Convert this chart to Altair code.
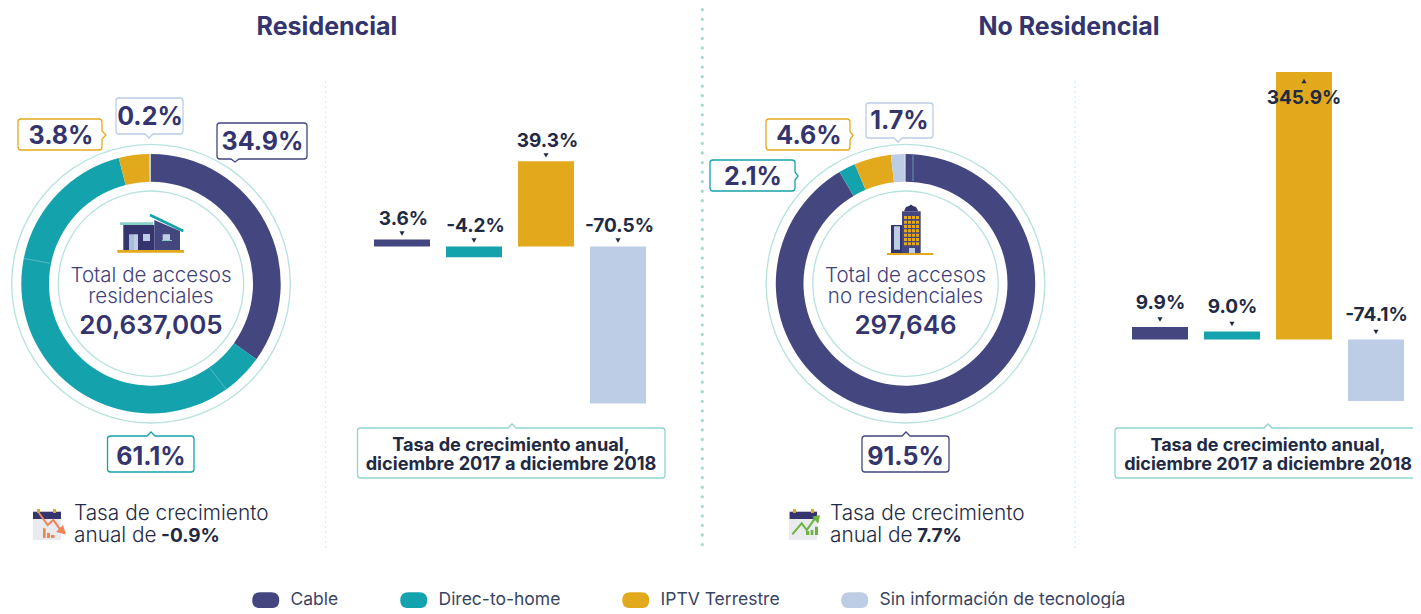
import altair as alt
import pandas as pd

# ---- data ----
categories = ["Cable", "Direc-to-home", "IPTV Terrestre", "Sin información de tecnología"]
colors = ["#43467F", "#14A3AC", "#E3A91D", "#BDCDE5"]
res_share = [34.9, 61.1, 3.8, 0.2]
nores_share = [91.5, 2.1, 4.6, 1.7]
res_bar = [3.2, -4.9, 38.7, -71.4]
nores_bar = [15.8, 10.1, 338.6, -77.8]
res_labels = ["3.6%", "-4.2%", "39.3%", "-70.5%"]
nores_labels = ["9.9%", "9.0%", "345.9%", "-74.1%"]

NAVY = "#34346E"
MID = "#3F4179"
INK = "#1F2A44"
RING = "#B7E3DE"
MINT = "#8FD5CE"
FONT = "Inter"

one = alt.Data(values=[{"a": 1}])
layers = []


def X(v):
    return alt.value(v - 8)


def Y(v):
    return alt.value(v - 8)


def txt(s, x, y, size, weight=400, color=NAVY, align="center"):
    layers.append(
        alt.Chart(one)
        .mark_text(text=s, font=FONT, fontSize=size, fontWeight=weight, color=color, align=align, baseline="middle")
        .encode(x=X(x), y=Y(y + 1.3))
    )


def shape(path, fill=None, stroke=None, sw=0):
    kw = {}
    if fill:
        kw.update(filled=True, fill=fill)
    if stroke:
        kw.update(stroke=stroke, strokeWidth=sw)
    else:
        kw.update(strokeWidth=0)
    layers.append(alt.Chart(one).mark_point(shape=path, size=4, opacity=1, **kw).encode(x=alt.value(0), y=alt.value(0)))


def pts(*p, close=True):
    s = "M" + "L".join(f"{a-8:.1f},{b-8:.1f}" for a, b in p)
    return s + ("Z" if close else "")


def rects(*rs):
    return "".join(pts((a, b), (c, b), (c, d), (a, d)) for a, b, c, d in rs)


def vrule(x, y0, y1, dash, width, color=MINT):
    layers.append(
        alt.Chart(one)
        .mark_rule(color=color, strokeWidth=width, strokeDash=dash, strokeCap="round")
        .encode(x=X(x), y=Y(y0), y2=Y(y1))
    )


def seam(x0, y0, x1, y1):
    layers.append(
        alt.Chart(one)
        .mark_rule(color="#7FCBD0", strokeWidth=1, opacity=0.6)
        .encode(x=X(x0), y=Y(y0), x2=X(x1), y2=Y(y1))
    )


def ring(cx, cy, r, width=1.3):
    layers.append(
        alt.Chart(one)
        .mark_arc(innerRadius=r - width / 2, outerRadius=r + width / 2, theta=0, theta2=6.2832, color=RING)
        .encode(x=X(cx), y=Y(cy))
    )


def callout(x0, y0, x1, y1, side, pos, tip, color, sw=1.3):
    r = 3
    p = [f"M{x0+r-8:.1f},{y0-8:.1f}"]
    if side == "up":
        p += [f"L{pos-4-8:.1f},{y0-8:.1f}", f"L{pos-8:.1f},{tip-8:.1f}", f"L{pos+4-8:.1f},{y0-8:.1f}"]
    p += [f"L{x1-r-8:.1f},{y0-8:.1f}", f"Q{x1-8:.1f},{y0-8:.1f},{x1-8:.1f},{y0+r-8:.1f}"]
    if side == "right":
        p += [f"L{x1-8:.1f},{pos-4-8:.1f}", f"L{tip-8:.1f},{pos-8:.1f}", f"L{x1-8:.1f},{pos+4-8:.1f}"]
    p += [f"L{x1-8:.1f},{y1-r-8:.1f}", f"Q{x1-8:.1f},{y1-8:.1f},{x1-r-8:.1f},{y1-8:.1f}"]
    if side == "down":
        p += [f"L{pos+4-8:.1f},{y1-8:.1f}", f"L{pos-8:.1f},{tip-8:.1f}", f"L{pos-4-8:.1f},{y1-8:.1f}"]
    p += [f"L{x0+r-8:.1f},{y1-8:.1f}", f"Q{x0-8:.1f},{y1-8:.1f},{x0-8:.1f},{y1-r-8:.1f}",
          f"L{x0-8:.1f},{y0+r-8:.1f}", f"Q{x0-8:.1f},{y0-8:.1f},{x0+r-8:.1f},{y0-8:.1f}Z"]
    shape("".join(p), fill="#FFFFFF", stroke=color, sw=sw)


color_scale = alt.Scale(domain=categories, range=colors)
legend = alt.Legend(
    title=None, orient="none", legendX=249, legendY=583, direction="horizontal", columns=4, padding=0,
    symbolType="M-13.5,0Q-13.5,-8,-5.5,-8L5.5,-8Q13.5,-8,13.5,0Q13.5,8,5.5,8L-5.5,8Q-13.5,8,-13.5,0Z",
    symbolSize=4, symbolStrokeWidth=0, labelOffset=16, labelFont=FONT, labelFontSize=17.5,
    labelColor="#3A4463", labelLimit=400, columnPadding=61, symbolOpacity=1,
)


def donut(values, cx, cy, leg):
    df = pd.DataFrame({"cat": categories, "share": values, "idx": range(4)})
    ring(cx, cy, 139.3)
    ring(cx, cy, 92.7)
    layers.append(
        alt.Chart(df)
        .mark_arc(innerRadius=102, outerRadius=129.7)
        .encode(
            x=X(cx),
            y=Y(cy),
            theta=alt.Theta("share:Q", stack=True, scale=alt.Scale(domain=[0, 100])),
            order=alt.Order("idx:Q"),
            color=alt.Color("cat:N", scale=color_scale, sort=categories, legend=leg),
        )
    )


def bars(values, labels, left, zero, ppu, lab_off, tri_off, x_off):
    df = pd.DataFrame({"cat": categories, "v": values, "label": labels})
    xs = alt.Scale(type="band", domain=categories, range=[left - 8, left + 272 - 8], paddingInner=16 / 72, paddingOuter=0)
    ys = alt.Scale(domain=[-400, 400], range=[zero - 8 + 400 * ppu, zero - 8 - 400 * ppu], nice=False, zero=False)
    ex = alt.X("cat:N", scale=xs, axis=None, sort=categories)
    ey = alt.Y("top:Q", scale=ys, axis=None)
    base = alt.Chart(df).transform_calculate(top="max(datum.v,0)")
    layers.append(
        alt.Chart(df).mark_bar().encode(
            x=ex,
            y=alt.Y("v:Q", scale=ys, axis=None, stack=None),
            color=alt.Color("cat:N", scale=color_scale, sort=categories, legend=None),
        )
    )
    normal = base.transform_filter("datum.v < 100")
    big = base.transform_filter("datum.v >= 100")
    layers.append(normal.mark_point(shape="triangle-down", filled=True, size=26, opacity=1, color=INK, yOffset=tri_off).encode(x=ex, y=ey))
    layers.append(normal.mark_text(font=FONT, fontSize=19, fontWeight=700, color=INK, yOffset=lab_off, xOffset=x_off, baseline="middle").encode(x=ex, y=ey, text="label:N"))
    layers.append(big.mark_point(shape="triangle-up", filled=True, size=26, opacity=1, color=INK, yOffset=9).encode(x=ex, y=ey))
    layers.append(big.mark_text(font=FONT, fontSize=19, fontWeight=700, color=INK, yOffset=25.5, baseline="middle").encode(x=ex, y=ey, text="label:N"))


# dividers
vrule(702.3, 9.7, 553, [0.1, 9.45], 3.2, "#A3DAD5")
vrule(325.7, 82, 548, [0.1, 4.9], 1.2, "#A3DAD5")
vrule(1075, 82, 548, [0.1, 4.9], 1.2, "#A3DAD5")

# titles
txt("Residencial", 327, 26, 25, 700)
txt("No Residencial", 1069, 26, 25, 700)

# donuts
donut(res_share, 151, 283.7, legend)
donut(nores_share, 905.5, 283.7, None)
seam(23.3, 258.3, 50, 263.3)
seam(210, 368.3, 226.7, 390)
seam(913, 155, 913, 181)

# callouts on the donuts
callout(116, 98, 183, 134, "down", 149, 138, "#BCCDE5")
txt("0.2%", 150, 116, 25, 700)
callout(18, 119, 102, 150, "right", 135, 106, "#E3A91D")
txt("3.8%", 61, 135, 25, 700)
callout(217, 123, 307, 159, "down", 235, 162, "#43467F")
txt("34.9%", 262.5, 140.5, 25, 700)
callout(107.5, 436, 194, 472, "up", 151, 432, "#14A3AC")
txt("61.1%", 151, 455.5, 25, 700)
callout(866, 103, 933, 138, "down", 898, 142, "#BCCDE5")
txt("1.7%", 899.5, 120, 25, 700)
callout(766, 119, 850, 150, "right", 135.5, 853, "#E3A91D")
txt("4.6%", 809, 135, 25, 700)
callout(710, 160, 795, 191, "right", 176, 798, "#14A3AC")
txt("2.1%", 753, 175.5, 25, 700)
callout(862, 436, 949, 472, "up", 906, 432, "#43467F")
txt("91.5%", 905.5, 455.5, 25, 700)

# centre texts
txt("Total de accesos", 151, 275, 20.5, 300, MID)
txt("residenciales", 151, 296, 20.5, 300, MID)
txt("20,637,005", 151, 325, 26, 600, NAVY)
txt("Total de accesos", 905.5, 275, 20.5, 300, MID)
txt("no residenciales", 905.5, 296, 20.5, 300, MID)
txt("297,646", 905.5, 325, 26, 600, NAVY)

# house icon
shape(rects((117.3, 250, 184, 252.7)), fill="#E3A91D")
shape(rects((123.3, 225, 154.3, 250)), fill=NAVY)
shape(pts((154.3, 220), (180, 231), (180, 250), (154.3, 250)), fill="#43467F")
shape(rects((120, 222.3, 153.3, 225)), fill="#8ACFC8")
shape(pts((150, 215), (183.3, 231), close=False), stroke="#14A3AC", sw=2.6)
shape(rects((129, 234.3, 134, 250)), fill="#A9BEDD")
shape(rects((134, 234.3, 138, 250), (143, 234, 150, 241), (162.7, 234.3, 170, 240)), fill="#BDCDE5")
shape(rects((162, 240, 172, 241)), fill="#8ACFC8")

# building icon
shape(rects((887, 253, 933.3, 255)), fill="#E3A91D")
shape(rects((891, 225, 902, 253)), fill=NAVY)
shape(rects((894, 226.3, 900, 249.7)), fill="#BDCDE5")
shape(rects((902, 211.3, 920.7, 253)), fill="#43467F")
shape(pts((904, 211.3), (906, 207), (909, 206), (911, 204.5), (913, 206), (916, 207), (918.3, 211.3)), fill=NAVY)
shape(rects((909, 248, 915, 253)), fill="#BDCDE5")
shape(rects(*[(c, r, c + 3, r + 3) for c in (904, 908, 912, 916) for r in (216, 220.7, 225, 229.3, 233.7, 238, 242.3)]), fill="#E3A91D")

# growth bars
bars(res_bar, res_labels, 374, 246.5, 2.2, -20.5, -6, 1.5)
bars(nores_bar, nores_labels, 1132, 339.5, 0.79, -24.5, -7.5, 0.5)

# growth captions
callout(357.5, 428, 665, 478, "up", 512, 424, MINT)
txt("Tasa de crecimiento anual,", 511, 444.5, 18.2, 700, INK)
txt("diciembre 2017 a diciembre 2018", 511, 463.5, 18.2, 700, INK)
callout(1115, 428, 1440, 478, "up", 1268, 424, MINT)
txt("Tasa de crecimiento anual,", 1268, 444.5, 18, 700, INK)
txt("diciembre 2017 a diciembre 2018", 1268, 463.5, 18, 700, INK)

# calendar, falling
shape(rects((33, 513, 61, 540)), fill="#E9EBEE")
shape(rects((33, 511.7, 61, 519)), fill=NAVY)
shape(rects((37, 509, 40, 513), (53, 509, 56, 513)), fill="#E3A91D")
shape(rects((43, 528.3, 45.6, 538), (47, 533, 50, 538), (51, 535, 54.5, 538)), fill="#EF8354")
shape(pts((39, 513), (47.7, 525), (53.3, 520), (61.7, 531.7), close=False), stroke="#EF8354", sw=2)
shape(pts((66, 534.5), (56, 532), (63, 525)), fill="#EF8354")
txt("Tasa de crecimiento", 74, 513, 20.8, 300, INK, "left")
txt("anual de", 74, 535, 20.8, 300, INK, "left")
txt("-0.9%", 161, 535, 19, 700, INK, "left")

# calendar, rising
shape(rects((789, 513, 817, 540)), fill="#E9EBEE")
shape(rects((789.6, 511.7, 817, 519)), fill=NAVY)
shape(rects((793, 509, 796, 513), (811, 509, 814, 513)), fill="#E3A91D")
shape(rects((806, 531, 809.3, 535), (810.7, 530, 813.3, 535), (815, 526.7, 818, 535)), fill="#6DB33F")
shape(pts((792.3, 534.3), (801.7, 523.3), (806.7, 530), (815, 518.3), close=False), stroke="#6DB33F", sw=2)
shape(pts((820, 515), (812.3, 516.7), (818.3, 524)), fill="#6DB33F")
txt("Tasa de crecimiento", 830, 513, 20.8, 300, INK, "left")
txt("anual de", 830, 535, 20.8, 300, INK, "left")
txt("7.7%", 917, 535, 19, 700, INK, "left")

chart = (
    alt.layer(*layers)
    .resolve_scale(x="independent", y="independent")
    .properties(width=1405, height=600, padding=0, autosize=alt.AutoSizeParams(type="none"), background="white")
    .configure_view(stroke=None)
)
chart.save("out.html", embed_options={"renderer": "svg", "actions": False})
